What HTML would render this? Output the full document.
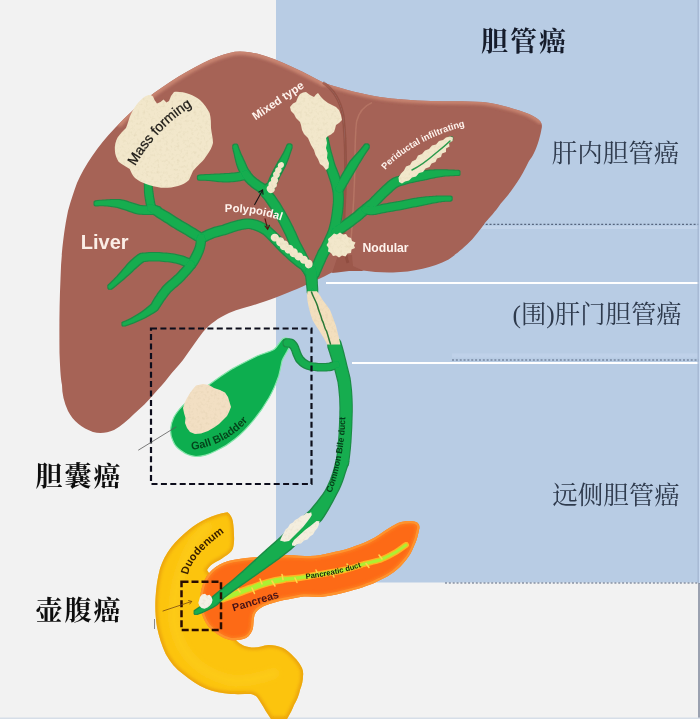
<!DOCTYPE html>
<html lang="zh">
<head>
<meta charset="utf-8">
<title>胆管癌</title>
<style>
html,body{margin:0;padding:0;background:#f2f2f2;}
body{width:700px;height:719px;overflow:hidden;position:relative;font-family:"Liberation Sans","Noto Sans CJK SC",sans-serif;}
svg{position:absolute;left:0;top:0;display:block;}
.zh{font-family:"Liberation Serif","Noto Serif CJK SC",serif;}
.en{font-family:"Liberation Sans",sans-serif;}
</style>
</head>
<body>
<svg width="700" height="719" viewBox="0 0 700 719">
<defs>
<filter id="soft" x="-5%" y="-5%" width="110%" height="110%"><feGaussianBlur stdDeviation="0.6"/></filter>
<filter id="soft2" x="-5%" y="-5%" width="110%" height="110%"><feGaussianBlur stdDeviation="0.45"/></filter>
<filter id="blur3" x="-10%" y="-10%" width="120%" height="120%"><feGaussianBlur stdDeviation="3"/></filter>
<filter id="blur2" x="-10%" y="-10%" width="120%" height="120%"><feGaussianBlur stdDeviation="1.6"/></filter>
<filter id="tex" x="-5%" y="-5%" width="110%" height="110%">
  <feTurbulence type="fractalNoise" baseFrequency="0.35" numOctaves="2" seed="4" result="n"/>
  <feColorMatrix in="n" type="matrix" values="0 0 0 0 0.55  0 0 0 0 0.45  0 0 0 0 0.25  0.55 0 0 0 -0.27" result="c"/>
  <feComposite in="c" in2="SourceGraphic" operator="in" result="ci"/>
  <feMerge><feMergeNode in="SourceGraphic"/><feMergeNode in="ci"/></feMerge>
  <feGaussianBlur stdDeviation="0.45"/>
</filter>
<filter id="duct" x="-5%" y="-5%" width="110%" height="110%">
  <feMorphology in="SourceAlpha" operator="dilate" radius="0.7" result="d"/>
  <feFlood flood-color="#1d8a45"/><feComposite in2="d" operator="in" result="o"/>
  <feMerge><feMergeNode in="o"/><feMergeNode in="SourceGraphic"/></feMerge>
  <feGaussianBlur stdDeviation="0.5"/>
</filter>
<filter id="gsoft" x="0" y="0" width="100%" height="100%" filterUnits="objectBoundingBox"><feGaussianBlur stdDeviation="0.55" edgeMode="duplicate"/></filter>
</defs>
<g filter="url(#gsoft)">
<rect x="0" y="0" width="700" height="719" fill="#f2f2f2"/>
<!-- blue panel -->
<rect id="panel" x="276" y="0" width="424" height="582.5" fill="#b8cce4"/>
<!-- divider lines -->
<g id="lines">
<line x1="326" y1="283" x2="700" y2="283" stroke="#fff" stroke-width="2"/>
<line x1="352" y1="363" x2="700" y2="363" stroke="#fff" stroke-width="2"/>
<line x1="478" y1="227.6" x2="700" y2="227.6" stroke="#c4d5eb" stroke-width="3"/>
<line x1="452" y1="355.5" x2="700" y2="355.5" stroke="#bfd1e9" stroke-width="4"/>
<line x1="478" y1="224.4" x2="700" y2="224.4" stroke="#56657e" stroke-width="1.1" stroke-dasharray="2 1.85"/>
<line x1="452" y1="360" x2="700" y2="360" stroke="#56657e" stroke-width="1.1" stroke-dasharray="2 1.85"/>
<line x1="445" y1="583" x2="700" y2="583" stroke="#56657e" stroke-width="1.1" stroke-dasharray="2 1.85"/>
<line x1="698.2" y1="0" x2="698.2" y2="583" stroke="#a5b7d2" stroke-width="1.3"/>
<line x1="699.5" y1="0" x2="699.5" y2="583" stroke="#c6d8f0" stroke-width="1"/>
<line x1="699" y1="583" x2="699" y2="719" stroke="#7c869a" stroke-width="1.5"/>
<line x1="0" y1="718.3" x2="700" y2="718.3" stroke="#d6dee8" stroke-width="1.4"/>
</g>
<g id="liver" filter="url(#soft)">
<!-- main lobe -->
<path d="M240,51.5 C262,51.5 290,65 323,82.5 C333,89 340,100 343,115 C346,140 346,180 344,215 C344,235 345.5,250 344.5,259 C343,265 339,269 333,272 C322,277.5 311,283 297,289 C285,294 275,298 260,303 C248,307 238,309 229,313 C218,318 210,324 203,332 C197,340 190,350 183,360 C178,366 173,371.5 168.6,377 C164,383 159,388.5 154,394 C148,401 141,408 134,414 C128,420 121,426 114,430 C107,433 100,434 93,432 C82,428 73,421 68,411 C64,402 62,394 62,385 C60.5,378 60,365 59.5,353 C59.3,330 59.3,305 60.5,279 C61,255 64,230 68,211 C71,200 74,191 77,183 C85,165 97,147 115,128 C127,115 140,103 154,93 C175,78 198,64 218,56.5 C226,53.5 233,51.5 240,51.5 Z" fill="#a66357"/>
<!-- right lobe -->
<path d="M323,82.5 C345,90 365,94.5 380,97 C395,99.3 412,100.3 431,101 C445,101.3 465,101 483,102 C493,103 501,105 508.6,107.3 C516,109.5 523,111.5 529,114 C534,116.5 538,118.5 540,121 C542,123.5 542.3,126 541.5,129 C540.5,135 538,145 534,153 C532.5,156 531,158.5 529,161 C520,180 511,192 500.6,203.7 C495,212 490,217 485.7,222 C480,230 474,238 467,244.6 C460,251 455,255 448.6,259.4 C440,264 432,266.5 422.6,268.7 C412,271 403,272.2 393,272.4 C382,272.6 372,272 363,270.6 C356,269.5 350.5,268.5 347.5,265 C344.5,261 342.5,250 342,240 L342,215 C346,180 346,140 343,115 C340,100 333,89 323,82.5 Z" fill="#a56256"/>
<clipPath id="liverclip"><path d="M240,51.5 C262,51.5 290,65 323,82.5 C333,89 340,100 343,115 C346,140 346,180 344,215 C344,235 345.5,250 344.5,259 C343,265 339,269 333,272 C322,277.5 311,283 297,289 C285,294 275,298 260,303 C248,307 238,309 229,313 C218,318 210,324 203,332 C197,340 190,350 183,360 C178,366 173,371.5 168.6,377 C164,383 159,388.5 154,394 C148,401 141,408 134,414 C128,420 121,426 114,430 C107,433 100,434 93,432 C82,428 73,421 68,411 C64,402 62,394 62,385 C60.5,378 60,365 59.5,353 C59.3,330 59.3,305 60.5,279 C61,255 64,230 68,211 C71,200 74,191 77,183 C85,165 97,147 115,128 C127,115 140,103 154,93 C175,78 198,64 218,56.5 C226,53.5 233,51.5 240,51.5 Z"/><path d="M323,82.5 C345,90 365,94.5 380,97 C395,99.3 412,100.3 431,101 C445,101.3 465,101 483,102 C493,103 501,105 508.6,107.3 C516,109.5 523,111.5 529,114 C534,116.5 538,118.5 540,121 C542,123.5 542.3,126 541.5,129 C540.5,135 538,145 534,153 C532.5,156 531,158.5 529,161 C520,180 511,192 500.6,203.7 C495,212 490,217 485.7,222 C480,230 474,238 467,244.6 C460,251 455,255 448.6,259.4 C440,264 432,266.5 422.6,268.7 C412,271 403,272.2 393,272.4 C382,272.6 372,272 363,270.6 C356,269.5 350.5,268.5 347.5,265 C344.5,261 342.5,250 342,240 L342,215 C346,180 346,140 343,115 C340,100 333,89 323,82.5 Z"/></clipPath>
<g clip-path="url(#liverclip)" fill="none" stroke-linecap="round">
<path d="M120,123 C127,115 140,103 154,93 C175,78 198,64 218,56.5 C226,53.5 233,51.5 240,51.5 C262,51.5 290,65 323,82.5" stroke="#cd8974" stroke-width="7" filter="url(#blur2)" opacity="0.9"/>
<path d="M323,82.5 C345,90 365,94.5 380,97 C395,99.3 412,100.3 431,101 C445,101.3 465,101 483,102 C493,103 501,105 508.6,107.3 C516,109.5 523,111.5 529,114 C534,116.5 538,118.5 540,121" stroke="#cd8974" stroke-width="6" filter="url(#blur2)" opacity="0.85"/>
</g>
<!-- filler --><path d="M332,273 L338,255 L352,255 L353,266 L364,271 L349,271 L337,272.5 Z" fill="#9c584c"/>
<!-- fold -->
<path d="M323,82.5 C333,89 340,100 343,115 C346,140 346,180 344,215 C343.5,240 345,255 348,263" fill="none" stroke="#874539" stroke-width="3" opacity="0.55" filter="url(#soft)"/>
<path d="M372,102.6 C364,106 359,111 356.6,121.5 C355,135 355,150 354.9,165 C354.5,190 353,215 351,240" fill="none" stroke="#bd7b6b" stroke-width="1.5" opacity="0.7" filter="url(#soft)"/>
</g>

<g id="duodenum">
<clipPath id="duoclip"><path id="duopath" d="M227.5,512.3 C220,513.5 213,515.5 207,518.6 C200,522 194,525.5 188.6,530 C181,536 176,541.5 171.4,547 C166,554 162.5,561 160,568.6 C157.5,578 156,588 155.5,598.6 C155,608 155.5,618 157,627 C159,637 162,646 165.7,654 C170,662 176,669 183,674 C190,680 198,685 205.7,688.6 C214,692 222,693.5 231,694 C238,694.3 245,694 251,694 C253.5,694.5 255.5,695.5 257,697 C260,701 263,706 265.7,711 L271,719 L287,719 C290,714 292.5,709 294,705 C297,700 299,695 300,690 C302,685 303,680 303,676 C303.5,673 303,670.5 302,668 C300,664 297.5,660 294,657 C291,653.5 287,650 283,648 C278.5,646 273.5,645 268.6,645 C263.5,645.5 259,647.5 254,647.5 C247,647.5 240,645 236,640 C232,632 226,622 222,612 C218,602 214,590 212,580 C211,576 209,573 207,570 C209,566.5 211.5,564.5 214,562.9 C217.5,561 221,559.5 224,557 C228.5,554.5 231.5,552 232.9,548.6 C234,544.5 234.3,540 234,535.7 C234,531 233.5,526 232.9,521.4 C232,517.5 230.5,514.5 227.5,512.3 Z"/></clipPath>
<use href="#duopath" fill="#fcc410" filter="url(#soft)"/>
<g clip-path="url(#duoclip)">
<use href="#duopath" fill="none" stroke="#e9a00c" stroke-width="5" filter="url(#blur2)" opacity="0.85"/>
<path d="M210,524 C185,545 173,585 174,620 C178,652 198,672 228,680 C245,683 262,678 278,672" fill="none" stroke="#ffdc40" stroke-width="9" opacity="0.3" filter="url(#blur3)"/>
</g>
</g>
<g id="pancreas">
<clipPath id="panclip"><path id="panpath" d="M204,581 C207,575 211,570.5 215.7,567 C221,563.5 227,561 233,560 C241,558.5 250,557.5 258.6,557 C268,556 278,555.5 287,555 C295,555.5 303,556 310,556 C318,556 324,554.5 330,553 C337,551.5 344,550 350,548 C357,545.5 364,543 370,540 C376,537 381,533.5 386,530 C390,527.5 394,525 398,523 C402,521.5 406,521 410,521 C414,521 417,521.8 418.5,524 C419.8,526 419.5,528 419,530 C418,535.5 416.5,541 414,546 C412,551 409.5,556 406,560 C402.5,564.5 398.5,568.5 394,572 C389.5,575 385,578 380,580 C375.5,582.5 371,584.5 366,586 C361,588 355.5,589.5 350,591 C340,594 330,596 321,597 C315,597 310,596.5 304,596.5 C297,597.5 290,599 284,600 C277,601.5 270,603.5 264,606 C259,608.5 256,611 254.5,615 C253.5,619.5 253.5,624 253,628 C252,632 249.5,636 246,638 C241,640 235.5,640.5 230,640 C222,638 214,632.5 208,626 C203,619 200.5,611 200,604 C200,596 201,588 204,581 Z"/></clipPath>
<use href="#panpath" fill="#fd6a12" filter="url(#soft)"/>
<g clip-path="url(#panclip)">
<use href="#panpath" fill="none" stroke="#ffa238" stroke-width="4.5" filter="url(#soft2)" opacity="0.9"/>
<use href="#panpath" fill="none" stroke="#fd8a28" stroke-width="8" filter="url(#blur2)" opacity="0.5"/>
</g>
<!-- pancreatic duct -->
<g fill="none" stroke="#ffc428" stroke-linecap="round" filter="url(#soft)" opacity="0.85">
<path d="M218,600 C229,596.5 240,592 252,588 C262,584 272,581 283,579.5" stroke-width="7.8"/>
<path d="M283,579.5 C293,578.5 300,578 308,576.5 C320,574 332,572.5 344,570" stroke-width="6.8"/>
<path d="M344,570 C351,568.5 358,566 364,564 C370,562.5 375,561.5 380,560 C386,557.5 391,555 396,552 C400,549.5 403,547 406,545" stroke-width="6"/>
</g>
<g fill="none" stroke="#aef032" stroke-linecap="round" filter="url(#soft2)">
<path d="M218,600 C229,596.5 240,592 252,588 C262,584 272,581 283,579.5" stroke-width="4.8"/>
<path d="M283,579.5 C293,578.5 300,578 308,576.5 C320,574 332,572.5 344,570" stroke-width="3.8"/>
<path d="M344,570 C351,568.5 358,566 364,564 C370,562.5 375,561.5 380,560 C386,557.5 391,555 396,552 C400,549.5 403,547 406,545" stroke-width="3"/>
<path d="M240,592 l-3,-4.5 M252,588 l2.5,5.5 M262,584 l-2,-5 M272,581 l3,5 M283,579.5 l-1,-5 M295,578 l2,4.5 M318,574.5 l-2,-4.5 M332,572.5 l2,4.5 M350,568.5 l-3,-4.5 M366,563.5 l3,4 M382,559 l-3,-4" stroke-width="1.5" stroke="#ffd84a"/>
</g>
</g>
<line x1="154.5" y1="619" x2="154.5" y2="629" stroke="#8a8a8a" stroke-width="1"/>
<g id="gb" filter="url(#soft2)">
<path d="M283,338.5 C286.5,337 290.5,338.5 291,342.5 C291,346 288.5,348.5 287,351.6 C285,355 283,358 282,361 C281,366 280,371 278.7,375.9 C276,383.5 273,391 269,397.7 C264.5,405.5 259.5,413 254,419.6 C248,427 242,433.5 235,439 C229,444 222.5,448 215.6,451 C209,454.5 202.5,456.5 196,456.5 C190.5,456 185.5,454 181.6,451 C177.5,448.5 174.5,445 173,441 C171,437 170.3,433 170.6,429 C171,425 172,421 174,417 C177,411.5 181,407 186,402.6 C193,396.5 200,391 208,385.6 C216,379.5 224,374 232.6,368.6 C241,364 249,360 257,356 C263,353.5 269,352 274,349.5 C277.5,347 279.5,341.5 283,338.5 Z" fill="#0fae50" stroke="#86e6ab" stroke-width="1.2"/>
</g>
<g id="ducts" filter="url(#duct)" fill="#12ad50" stroke="none">
<path d="M96.7,205.4 L98.6,205.2 L100.4,205.2 L102.3,205.2 L104.1,205.3 L106,205.4 L107.8,205.6 L109.7,205.8 L111.5,206 L113.2,206.3 L115,206.5 L116.7,206.8 L118.1,207 L119.6,207.4 L121.2,207.9 L122.8,208.5 L124.5,209 L126.1,209.6 L127.7,210.1 L129.3,210.7 L131,211.3 L132.7,211.8 L134.5,212.4 L136.3,212.9 L138.3,213.4 L140.4,213.7 L142.2,213.8 L143.9,213.9 L145.6,213.9 L147.2,213.9 L148.7,213.9 L150.2,213.9 L151.6,214 L152.9,214 L154.2,214 L155.4,214.1 L156.6,214.3 A3.8,3.8 0 0 0 157.4,206.7 L157.4,206.7 L156.1,206.6 L154.6,206.5 L153.2,206.4 L151.7,206.4 L150.3,206.3 L148.8,206.3 L147.3,206.3 L145.7,206.3 L144.2,206.3 L142.6,206.2 L141,206.1 L139.7,206 L138.3,205.6 L136.7,205.1 L135.1,204.6 L133.5,204.1 L131.8,203.5 L130.2,202.9 L128.5,202.4 L126.8,201.8 L125,201.3 L123.2,200.8 L121.3,200.4 L119.1,200 L117.2,200 L115.4,200 L113.6,200 L111.7,200.1 L109.9,200.2 L107.9,200.3 L106,200.4 L104.1,200.5 L102.1,200.7 L100.2,200.8 L98.2,201 L96.3,201.2 A2.1,2.1 0 0 0 96.7,205.4 Z"/>
<path d="M144.8,183.2 L144.8,185.4 L144.9,187.7 L144.9,189.9 L145,192.1 L145.2,194.2 L145.5,196.4 L145.8,198.5 L146.2,200.6 L146.5,202.7 L147,204.8 L147.4,206.8 L147.9,208.9 A3.7,3.7 0 0 0 155.1,207.1 L155.1,207.1 L154.6,205.2 L154.2,203.2 L153.8,201.3 L153.5,199.3 L153.1,197.4 L152.9,195.4 L152.6,193.4 L152.3,191.3 L152,189.3 L151.7,187.2 L151.4,185 L151.2,182.8 A3.2,3.2 0 0 0 144.8,183.2 Z"/>
<path d="M149.1,211.3 L151.3,212.6 L153.5,213.8 L155.6,215.1 L157.6,216.4 L159.6,217.7 L161.6,219 L163.5,220.2 L165.4,221.4 L167.3,222.6 L169.1,223.8 L170.9,225 L172.8,226.2 L175.1,227.6 L177.4,228.9 L179.6,230.2 L181.8,231.5 L184,232.8 L186.2,234.1 L188.4,235.4 L190.5,236.7 L192.6,238 L194.6,239.3 L196.7,240.6 L198.6,242 A4.2,4.2 0 0 0 203.4,235 L203.4,235 L201.3,233.6 L199.2,232.3 L197.1,230.9 L194.9,229.6 L192.7,228.2 L190.5,226.9 L188.3,225.6 L186.1,224.3 L183.9,223 L181.6,221.7 L179.4,220.3 L177.2,219 L175.5,217.9 L173.7,216.7 L171.8,215.5 L169.9,214.3 L167.9,213.1 L165.9,211.9 L163.8,210.7 L161.7,209.5 L159.5,208.4 L157.3,207.1 L155.1,205.9 L152.9,204.7 A3.8,3.8 0 0 0 149.1,211.3 Z"/>
<path d="M203,242.2 L205,241.1 L206.8,240.2 L208.6,239.3 L210.4,238.5 L212.2,237.7 L213.9,237.1 L215.7,236.5 L217.5,235.9 L219.3,235.4 L221.1,234.9 L222.9,234.5 L225.2,234 L227.4,233.2 L229.3,232.5 L231.1,231.9 L232.8,231.3 L234.4,230.8 L236.1,230.3 L237.7,229.8 L239.2,229.4 L240.8,229 L242.4,228.7 L244,228.4 L245.5,228.2 L247,228 L248.4,228 L249.8,228.1 L251.2,228.3 L252.7,228.7 L254.2,229.1 L255.8,229.7 L257.3,230.3 L259,231 L260.6,231.8 L262.2,232.7 L263.6,233.4 L264.9,234.6 L266.5,236.1 L268,237.5 L269.5,239 L270.9,240.4 L272.3,241.9 L273.8,243.4 L275.2,244.9 L276.6,246.4 L278,247.9 L279.5,249.4 L281,251 L282.8,252.7 L284.6,254.5 L286.4,256.1 L288.2,257.8 L290,259.4 L291.8,260.9 L293.6,262.5 L295.4,263.9 L297.2,265.4 L299,266.8 L300.8,268.1 L302.1,269 L302.6,269.9 L303.6,271.2 L304.6,272.5 L305.6,273.9 L306.6,275.2 L307.6,276.5 A4.2,4.2 0 0 0 314.4,271.5 L314.4,271.5 L313.4,270.1 L312.4,268.8 L311.4,267.5 L310.4,266.1 L309.4,264.8 L307.9,263 L305.7,261.3 L304,260.1 L302.3,258.8 L300.6,257.4 L298.9,256 L297.2,254.6 L295.5,253.1 L293.8,251.6 L292.1,250 L290.4,248.4 L288.7,246.7 L287,245 L285.5,243.6 L284.1,242.1 L282.7,240.6 L281.3,239.1 L279.9,237.6 L278.4,236.1 L276.9,234.6 L275.4,233 L273.8,231.5 L272.2,229.9 L270.5,228.4 L268.4,226.6 L266.3,225.3 L264.4,224.4 L262.5,223.4 L260.7,222.6 L258.7,221.8 L256.8,221.1 L254.8,220.5 L252.8,220.1 L250.7,219.8 L248.6,219.6 L246.5,219.6 L244.5,219.8 L242.6,220.1 L240.8,220.5 L239,220.8 L237.2,221.3 L235.4,221.7 L233.7,222.2 L231.9,222.8 L230.1,223.3 L228.3,224 L226.4,224.6 L224.5,225.3 L222.8,226 L221.1,226.3 L219.1,226.8 L217.1,227.3 L215,227.8 L213,228.5 L211.1,229.2 L209.1,229.9 L207.1,230.8 L205.1,231.7 L203,232.7 L201,233.7 L199,234.8 A4.2,4.2 0 0 0 203,242.2 Z"/>
<path d="M196.9,238.5 L196.9,239.3 L196.9,240.1 L196.8,240.9 L196.8,241.7 L196.7,242.6 L196.6,243.4 L196.4,244.3 L196.3,245.1 L196.1,246 L195.8,246.9 L195.6,247.7 L195.3,248.6 L194.8,249.7 L194.3,250.9 L193.8,252.1 L193.2,253.2 L192.6,254.4 L192,255.5 L191.4,256.7 L190.8,257.8 L190.1,258.9 L189.4,260 L188.6,261 L187.8,262.1 A4,4 0 0 0 194.2,266.9 L194.2,266.9 L195.1,265.7 L196,264.5 L196.8,263.2 L197.6,261.9 L198.4,260.6 L199.1,259.3 L199.8,258 L200.4,256.7 L201,255.4 L201.6,254.1 L202.2,252.8 L202.7,251.4 L203.1,250.3 L203.5,249.1 L203.8,248 L204.1,246.9 L204.3,245.8 L204.6,244.7 L204.7,243.6 L204.9,242.6 L205,241.5 L205,240.5 L205.1,239.5 L205.1,238.5 A4.1,4.1 0 0 0 196.9,238.5 Z"/>
<path d="M111.3,288.6 L112.6,287.6 L113.8,286.6 L115,285.6 L116.2,284.6 L117.4,283.6 L118.6,282.6 L119.8,281.6 L121,280.5 L122.3,279.5 L123.5,278.4 L124.8,277.3 L126.1,276.1 L127.7,274.7 L129.3,273.3 L130.8,271.9 L132.3,270.5 L133.7,269.1 L135.2,267.8 L136.6,266.5 L138,265.2 L139.4,264 L140.9,262.8 L142.4,261.7 L143.3,261 L144.4,261 L146.3,260.8 L148.2,260.6 L150.2,260.5 L152.1,260.5 L154.1,260.4 L156.1,260.5 L158.2,260.5 L160.2,260.6 L162.3,260.8 L164.4,261 L166.7,261.2 L168.7,261.3 L170.5,261.5 L172.4,261.8 L174.3,262.2 L176.1,262.6 L178,263.1 L179.9,263.6 L181.7,264.3 L183.6,265 L185.4,265.8 L187.3,266.7 L189.3,267.8 A3.7,3.7 0 0 0 192.7,261.2 L192.7,261.2 L190.7,260.1 L188.6,259.1 L186.4,258.2 L184.3,257.3 L182.1,256.6 L180,255.9 L177.9,255.4 L175.7,254.9 L173.6,254.5 L171.5,254.2 L169.3,254 L167.3,253.8 L165.1,253.6 L162.9,253.4 L160.6,253.2 L158.4,253.1 L156.3,253.1 L154.1,253.1 L152,253.1 L149.9,253.1 L147.8,253.2 L145.7,253.4 L143.6,253.6 L140.7,254 L138.2,255.6 L136.4,256.9 L134.7,258.3 L133.1,259.7 L131.6,261.1 L130.1,262.6 L128.6,264.1 L127.3,265.6 L125.9,267.2 L124.6,268.7 L123.2,270.3 L121.9,271.9 L120.7,273.2 L119.6,274.5 L118.5,275.7 L117.5,276.9 L116.4,278 L115.4,279.1 L114.3,280.2 L113.2,281.3 L112.2,282.3 L111,283.4 L109.9,284.4 L108.7,285.4 A2.1,2.1 0 0 0 111.3,288.6 Z"/>
<path d="M124.6,325.6 L127.4,324.6 L130.2,323.5 L133,322.4 L135.8,321.2 L138.6,320 L141.4,318.7 L144.1,317.4 L146.8,316 L149.4,314.6 L152,313 L154.5,311.4 L157.2,309.4 L158.6,307.3 L159.5,305.9 L160.4,304.5 L161.4,303 L162.4,301.6 L163.3,300.1 L164.3,298.7 L165.4,297.2 L166.5,295.8 L167.6,294.3 L168.7,292.9 L169.8,291.6 L170.9,290.5 L172.1,289.4 L173.4,288.3 L174.7,287.1 L176.1,285.9 L177.5,284.7 L178.9,283.5 L180.3,282.2 L181.7,280.9 L183.2,279.5 L184.5,278 L185.8,276.6 L186.5,275.9 L187.2,275.1 L188,274.3 L188.7,273.5 L189.4,272.7 L190.1,271.9 L190.8,271.1 L191.5,270.2 L192.1,269.4 L192.8,268.5 L193.4,267.6 L194.1,266.7 A3.8,3.8 0 0 0 187.9,262.3 L187.9,262.3 L187.3,263.1 L186.7,263.9 L186.1,264.7 L185.5,265.5 L184.9,266.2 L184.3,267 L183.7,267.7 L183,268.5 L182.4,269.2 L181.7,269.9 L181,270.6 L180.2,271.4 L178.9,272.9 L177.7,274.2 L176.5,275.4 L175.2,276.6 L173.9,277.8 L172.5,279 L171.2,280.2 L169.8,281.3 L168.4,282.5 L167,283.7 L165.7,285 L164.2,286.4 L162.8,288.1 L161.6,289.7 L160.4,291.2 L159.2,292.8 L158.1,294.3 L157.1,295.9 L156,297.4 L155,299 L154.1,300.5 L153.2,302.1 L152.3,303.7 L152,304.6 L150.3,306 L148.2,307.8 L146.1,309.5 L143.8,311.2 L141.4,312.9 L139,314.5 L136.5,316 L134,317.5 L131.4,318.9 L128.8,320.2 L126.1,321.4 L123.4,322.4 A1.7,1.7 0 0 0 124.6,325.6 Z"/>
<path d="M200.1,179.8 L202.1,179.7 L204,179.8 L206,179.8 L208,180 L209.9,180.1 L211.9,180.3 L213.9,180.6 L215.9,180.8 L217.9,181 L219.9,181.2 L222,181.3 L224,181.4 L226.1,181.5 L228.1,181.4 L230.1,181.3 L232,181.2 L234,181 L235.9,180.7 L237.7,180.5 L239.6,180.2 L241.4,179.8 L243.3,179.4 L245.1,179 L246.9,178.6 A3.7,3.7 0 0 0 245.1,171.4 L245.1,171.4 L243.4,171.8 L241.7,172.2 L240,172.6 L238.3,172.9 L236.6,173.2 L234.9,173.4 L233.2,173.6 L231.4,173.8 L229.6,173.9 L227.8,174 L225.9,174.1 L224,174.2 L222,174.3 L220.1,174.4 L218.1,174.5 L216.1,174.6 L214.1,174.7 L212.1,174.8 L210.1,174.9 L208,175 L206,175.1 L204,175.2 L201.9,175.3 L199.9,175.4 A2.2,2.2 0 0 0 200.1,179.8 Z"/>
<path d="M233.1,147.1 L233.5,148.7 L233.9,150.4 L234.3,152 L234.7,153.6 L235,155.1 L235.3,156.7 L235.7,158.2 L236.1,159.7 L236.4,161.2 L236.8,162.6 L237.2,164 L237.6,165.3 L238,166.3 L238.3,167.3 L238.7,168.3 L239.2,169.3 L239.6,170.3 L240.1,171.3 L240.6,172.2 L241.1,173.2 L241.7,174.1 L242.3,175.1 L242.9,176 L243.6,176.8 A3.7,3.7 0 0 0 249.4,172.2 L249.4,172.2 L248.8,171.5 L248.4,170.8 L247.9,170.2 L247.5,169.5 L247.1,168.7 L246.7,168 L246.3,167.2 L245.9,166.3 L245.6,165.5 L245.2,164.6 L244.8,163.7 L244.4,162.7 L243.8,161.5 L243.2,160.2 L242.6,159 L242,157.6 L241.3,156.3 L240.7,154.9 L240.1,153.5 L239.5,152.1 L238.9,150.6 L238.3,149.1 L237.8,147.5 L237.3,145.9 A2.2,2.2 0 0 0 233.1,147.1 Z"/>
<path d="M242.5,176.3 L243.7,177.8 L244.9,179.3 L246.2,180.8 L247.5,182.1 L248.8,183.4 L250.2,184.6 L251.5,185.8 L253,186.9 L254.4,188 L255.9,189 L257.4,190 L258.3,190.6 L259.7,192.1 L261.3,194 L262.8,195.9 L264.4,197.8 L265.9,199.8 L267.3,201.7 L268.7,203.7 L270.1,205.7 L271.4,207.8 L272.8,209.8 L274,211.9 L275.3,214.2 L276.8,216.7 L278.2,219.1 L279.6,221.6 L280.9,224.1 L282.2,226.6 L283.5,229.1 L284.7,231.6 L286,234.1 L287.2,236.7 L288.3,239.3 L289.5,242 L290.7,244.9 L292.1,247.5 L293.5,250 L294.8,252.5 L296.1,255 L297.3,257.5 L298.6,260 L299.9,262.6 L301.1,265.2 L302.4,267.8 L303.6,270.4 L304.8,273.1 L306.1,275.8 A4.3,4.3 0 0 0 313.9,272.2 L313.9,272.2 L312.7,269.5 L311.4,266.8 L310.1,264.1 L308.9,261.4 L307.6,258.8 L306.3,256.2 L305,253.6 L303.7,251.1 L302.4,248.5 L301.1,246 L299.7,243.5 L298.5,241.1 L297.4,238.6 L296.2,235.8 L295,233.1 L293.7,230.5 L292.5,227.8 L291.2,225.2 L289.8,222.6 L288.5,220 L287.1,217.4 L285.7,214.9 L284.2,212.3 L282.7,209.8 L281.4,207.6 L280.1,205.3 L278.7,203.1 L277.2,200.9 L275.7,198.8 L274.2,196.6 L272.6,194.6 L271,192.5 L269.3,190.5 L267.6,188.6 L265.8,186.6 L263.7,184.4 L261.6,183.2 L260.3,182.4 L258.9,181.5 L257.7,180.6 L256.4,179.7 L255.2,178.7 L254,177.7 L252.9,176.7 L251.8,175.5 L250.7,174.3 L249.6,173.1 L248.5,171.7 A3.8,3.8 0 0 0 242.5,176.3 Z"/>
<path d="M287.4,145.7 L286.9,147.1 L286.3,148.5 L285.7,149.8 L285.1,151.2 L284.4,152.6 L283.7,153.9 L282.9,155.3 L282.2,156.6 L281.4,157.9 L280.6,159.2 L279.8,160.5 L279,161.8 L277.9,163.7 L276.9,165.5 L275.9,167.4 L274.9,169.2 L274,171.1 L273,173 L272.1,174.9 L271.1,176.8 L270.2,178.7 L269.4,180.7 L268.5,182.7 L268.2,183.9 L267.9,183.8 L266.6,184.6 L265.3,185.4 L264,186.2 L262.7,187 A3.5,3.5 0 0 0 266.3,193 L266.3,193 L267.6,192.2 L268.9,191.4 L270.2,190.6 L271.5,189.8 L273.8,188.1 L275,185.3 L275.8,183.5 L276.6,181.6 L277.5,179.8 L278.3,177.9 L279.2,176.1 L280.2,174.3 L281.1,172.5 L282.1,170.7 L283.1,168.8 L284.1,166.9 L285,165 L285.7,163.6 L286.3,162.1 L286.9,160.6 L287.5,159.1 L288.1,157.6 L288.6,156.1 L289.1,154.6 L289.6,153 L290.1,151.6 L290.6,150.1 L291.1,148.7 L291.6,147.3 A2.2,2.2 0 0 0 287.4,145.7 Z"/>
<path d="M320.4,139.6 L320.8,141.9 L321.2,144.3 L321.7,146.7 L322.1,149.1 L322.7,151.6 L323.2,154 L323.8,156.5 L324.4,159 L325,161.6 L325.7,164.1 L326.4,166.6 L327.1,169.3 L327.9,171.4 L328.6,173.4 L329.2,175.4 L329.9,177.4 L330.5,179.3 L331.1,181.3 L331.7,183.2 L332.2,185 L332.6,186.9 L333,188.7 L333.3,190.5 L333.6,192.3 L333.7,194.1 L333.8,196 L333.9,197.9 L333.9,199.8 L333.9,201.7 L333.8,203.6 L333.6,205.4 L333.4,207.2 L333.2,209.1 L333,210.8 L332.8,212.6 L332.5,214.4 L332.3,216 L332.1,217.6 L331.8,219.2 L331.5,220.6 L331.3,222 L331,223.4 L330.7,224.8 L330.3,226.1 L330,227.4 L329.6,228.8 L329.2,230.2 L328.8,231.4 L328.1,233 L327.4,234.7 L326.6,236.4 L325.9,238.1 L325.1,239.8 L324.3,241.5 L323.5,243.1 L322.7,244.8 L321.9,246.4 L321,247.9 L320.1,249.5 L319,251.3 L318.1,253.2 L317.4,254.9 L316.6,256.6 L315.9,258.3 L315.1,260 L314.4,261.8 L313.6,263.5 L312.9,265.2 L312.1,267 L311.4,268.7 L310.6,270.5 L309.9,272.2 A4.5,4.5 0 0 0 318.1,275.8 L318.1,275.8 L318.9,274 L319.6,272.3 L320.4,270.5 L321.1,268.8 L321.9,267.1 L322.6,265.3 L323.4,263.6 L324.1,261.9 L324.9,260.2 L325.6,258.6 L326.4,256.9 L327,255.5 L327.9,254.1 L328.8,252.4 L329.8,250.6 L330.7,248.9 L331.6,247.1 L332.4,245.4 L333.3,243.6 L334.1,241.8 L334.9,240.1 L335.6,238.3 L336.4,236.5 L337.2,234.6 L337.8,232.9 L338.2,231.3 L338.7,229.8 L339.1,228.3 L339.4,226.8 L339.8,225.3 L340.1,223.8 L340.4,222.3 L340.7,220.7 L340.9,219.1 L341.2,217.4 L341.5,215.6 L341.7,213.8 L342,212 L342.2,210.1 L342.4,208.1 L342.6,206.2 L342.7,204.1 L342.8,202 L342.9,199.9 L342.9,197.8 L342.8,195.6 L342.7,193.4 L342.4,191.1 L342.1,189 L341.7,186.9 L341.2,184.8 L340.7,182.8 L340,180.7 L339.4,178.7 L338.7,176.6 L338,174.6 L337.2,172.6 L336.4,170.6 L335.6,168.6 L334.9,166.7 L334.1,164.4 L333.4,161.9 L332.7,159.5 L332,157 L331.3,154.6 L330.6,152.2 L330,149.8 L329.5,147.5 L329,145.2 L328.5,142.9 L328,140.6 L327.6,138.4 A3.7,3.7 0 0 0 320.4,139.6 Z"/>
<path d="M364.8,145.2 L363.7,146.8 L362.5,148.3 L361.3,149.7 L360.2,151.1 L359,152.4 L357.8,153.7 L356.7,154.9 L355.5,156.2 L354.4,157.4 L353.3,158.7 L352.2,159.9 L350.9,161.4 L349.5,163.6 L348.2,165.7 L347,167.8 L345.7,169.9 L344.5,172 L343.3,174.1 L342,176.2 L340.8,178.4 L339.5,180.5 L338.3,182.7 L337.1,184.9 L335.9,187.2 A3.8,3.8 0 0 0 342.5,190.8 L342.5,190.8 L343.7,188.6 L344.9,186.4 L346.1,184.3 L347.4,182.2 L348.6,180.1 L349.8,178 L351,175.9 L352.3,173.8 L353.5,171.7 L354.8,169.6 L356,167.4 L357.1,165.4 L357.8,164.2 L358.7,162.8 L359.6,161.4 L360.5,160 L361.4,158.5 L362.3,157.1 L363.2,155.6 L364.2,154.1 L365.2,152.5 L366.2,151 L367.3,149.4 L368.4,147.8 A2.2,2.2 0 0 0 364.8,145.2 Z"/>
<path d="M457.5,170.7 L455.9,170.7 L454.3,170.7 L452.7,170.6 L451.1,170.6 L449.4,170.5 L447.8,170.4 L446.2,170.3 L444.5,170.2 L442.8,170.2 L441.1,170.2 L439.3,170.2 L437.6,170.3 L435.8,170.3 L434,170.4 L432.3,170.5 L430.5,170.6 L428.7,170.8 L426.9,171 L425,171.2 L423.3,171.5 L421.6,171.7 L419.7,172 L417.8,172.3 L415.9,172.6 L414,173 L412,173.4 L410,173.9 L408,174.4 L405.9,174.9 L403.9,175.4 L401.8,176 L399.9,176.7 L399,176.9 L397.9,177.2 L396.8,177.5 L395.8,177.9 L394.8,178.3 L393.8,178.8 L392.8,179.3 L391.8,179.9 L390.9,180.5 L390,181.2 L389.1,181.9 L388.3,182.6 L386.8,184 L385.2,185.4 L383.7,186.8 L382.2,188.3 L380.6,189.7 L379.1,191.3 L377.5,192.8 L376,194.3 L374.4,195.9 L372.8,197.6 L371.2,199.2 L369.8,200.7 L368.7,201.5 L367.3,202.6 L366,203.7 L364.6,204.7 L363.3,205.8 L362,206.9 L360.7,207.9 L359.4,209 L358.1,210.1 L356.8,211.3 L355.5,212.4 L354.4,213.4 L353,214.4 L351.5,215.6 L350,216.7 L348.4,217.9 L346.8,219.1 L345.2,220.3 L343.4,221.5 L341.7,222.8 L339.8,224 L337.8,225.3 L335.7,226.6 L333.4,228 A4.1,4.1 0 0 0 337.6,235 L337.6,235 L339.9,233.6 L342.2,232.3 L344.3,230.9 L346.3,229.6 L348.2,228.2 L350,227 L351.7,225.7 L353.3,224.5 L354.9,223.3 L356.4,222.1 L357.9,221 L359.6,219.8 L361,218.5 L362.2,217.4 L363.4,216.3 L364.7,215.3 L365.9,214.2 L367.2,213.2 L368.4,212.2 L369.7,211.1 L371,210.1 L372.4,209.1 L373.7,208 L375.4,206.7 L377.1,204.9 L378.7,203.3 L380.3,201.7 L381.8,200.1 L383.3,198.6 L384.8,197.1 L386.3,195.6 L387.8,194.2 L389.3,192.8 L390.8,191.4 L392.2,190.1 L393.7,188.8 L394.4,188.2 L395,187.7 L395.6,187.3 L396.2,186.8 L396.8,186.5 L397.5,186.1 L398.1,185.8 L398.8,185.5 L399.5,185.3 L400.3,185 L401.1,184.8 L402.1,184.5 L404.2,183.9 L406.1,183.3 L408,182.8 L409.9,182.3 L411.9,181.9 L413.7,181.4 L415.6,181.1 L417.5,180.7 L419.3,180.3 L421.1,180 L422.9,179.7 L424.7,179.3 L426.5,178.9 L428.1,178.5 L429.8,178.1 L431.5,177.8 L433.2,177.4 L434.9,177.1 L436.5,176.8 L438.2,176.5 L439.8,176.2 L441.5,176 L443.1,175.8 L444.7,175.6 L446.2,175.5 L447.8,175.4 L449.4,175.3 L451.1,175.2 L452.7,175.2 L454.3,175.1 L455.9,175.1 L457.5,175.1 A2.2,2.2 0 0 0 457.5,170.7 Z"/>
<path d="M449.7,196.5 L448,196.5 L446.3,196.5 L444.5,196.4 L442.8,196.5 L441.1,196.5 L439.4,196.6 L437.6,196.6 L435.9,196.7 L434.1,196.8 L432.4,196.9 L430.6,197 L428.8,197.2 L427,197.3 L425.2,197.5 L423.4,197.7 L421.1,198 L418.8,198.3 L416.4,198.7 L414.1,199.1 L411.7,199.5 L409.3,200 L406.9,200.5 L404.5,200.9 L402.1,201.4 L399.7,201.9 L397.4,202.3 L395,202.8 L393.4,203 L391.7,203.3 L390,203.6 L388.3,203.9 L386.6,204.2 L384.8,204.5 L383.1,204.8 L381.3,205.2 L379.5,205.5 L377.7,205.9 L376,206.3 L374.2,206.7 L373.7,206.8 L373,206.9 L372.4,206.9 L371.8,207 L371.2,207 L370.6,207 L370,206.9 L369.4,206.8 L368.8,206.7 L368.1,206.6 L367.5,206.4 L366.7,206.1 A3.6,3.6 0 0 0 364.3,212.9 L364.3,212.9 L365.3,213.2 L366.3,213.5 L367.3,213.8 L368.3,213.9 L369.3,214.1 L370.2,214.2 L371.2,214.2 L372.1,214.2 L373,214.1 L373.9,214 L374.8,213.9 L375.8,213.7 L377.5,213.3 L379.3,212.9 L381,212.6 L382.7,212.2 L384.4,211.9 L386.1,211.6 L387.8,211.3 L389.5,211 L391.2,210.7 L392.9,210.4 L394.6,210.1 L396.4,209.8 L398.7,209.4 L401.1,208.9 L403.5,208.5 L405.9,208 L408.2,207.5 L410.6,207.1 L413,206.6 L415.4,206.2 L417.7,205.7 L420,205.3 L422.3,204.8 L424.6,204.3 L426.3,203.9 L428,203.5 L429.7,203.2 L431.4,202.8 L433.1,202.5 L434.8,202.2 L436.4,201.9 L438.1,201.6 L439.8,201.4 L441.5,201.1 L443.1,200.9 L444.7,200.8 L446.3,200.7 L448,200.7 L449.7,200.7 A2.1,2.1 0 0 0 449.7,196.5 Z"/>
<path d="M450.3,137.5 L448.5,138.6 L446.7,139.8 L444.9,141 L443.1,142.3 L441.3,143.6 L439.5,144.9 L437.6,146.2 L435.8,147.6 L434,149 L432.2,150.4 L430.3,151.9 L428.6,153.3 L426.1,155.2 L423.6,157.2 L421.1,159.2 L418.6,161.3 L416.2,163.3 L413.7,165.3 L411.3,167.3 L408.9,169.3 L406.5,171.3 L404.1,173.3 L401.8,175.3 L399.5,177.3 A2.2,2.2 0 0 0 402.5,180.7 L402.5,180.7 L404.8,178.7 L407,176.7 L409.4,174.7 L411.7,172.7 L414.1,170.7 L416.6,168.7 L419,166.7 L421.5,164.7 L423.9,162.8 L426.4,160.8 L428.9,158.8 L431.4,156.7 L433.2,155.1 L434.8,153.6 L436.5,152 L438.2,150.5 L439.9,149 L441.5,147.5 L443.2,146 L444.9,144.6 L446.6,143.2 L448.3,141.9 L450,140.7 L451.7,139.5 A1.2,1.2 0 0 0 450.3,137.5 Z"/>
<path d="M305.8,271.4 L305.9,272.9 L306,274.5 L306.2,276 L306.3,277.5 L306.5,279.1 L306.7,280.6 L306.8,282.1 L307,283.7 L307.2,285.2 L307.3,286.7 L307.5,288.3 L307.6,289.8 L307.7,291.4 A4.8,4.8 0 0 0 317.3,290.6 L317.3,290.6 L317.2,289.1 L317.1,287.6 L317,286 L316.9,284.5 L316.9,282.9 L316.8,281.4 L316.7,279.9 L316.7,278.3 L316.6,276.8 L316.5,275.2 L316.4,273.7 L316.3,272.1 L316.2,270.6 A5.2,5.2 0 0 0 305.8,271.4 Z"/>
<path d="M311.1,290.5 L312.5,294.4 L314,298.4 L315.7,302.7 L317.3,307.1 L319.1,311.6 L320.9,316.3 L322.8,321.1 L324.7,326 L326.6,331 L328.6,336.1 L330.6,341.3 L332.6,346.5 A1.5,1.5 0 0 0 335.4,345.5 L335.4,345.5 L333.4,340.2 L331.4,335.1 L329.4,330 L327.5,324.9 L325.6,320 L323.7,315.2 L321.9,310.5 L320.1,306 L318.5,301.6 L316.8,297.4 L315.3,293.3 L313.9,289.5 A1.5,1.5 0 0 0 311.1,290.5 Z"/>
<path d="M328.4,346.4 L329.3,349.2 L330.2,352.1 L331.1,354.9 L332,357.8 L332.9,360.7 L333.7,363.6 L334.6,366.5 L335.4,369.5 L336.2,372.4 L337,375.4 L337.7,378.4 L338.4,381.1 L338.8,384 L339.2,387.2 L339.5,390.4 L339.8,393.7 L340.1,397 L340.2,400.2 L340.3,403.5 L340.4,406.8 L340.4,410.1 L340.3,413.3 L340.3,416.5 L340.1,419.8 L340,423.1 L339.9,426.4 L339.7,429.7 L339.6,433 L339.4,436.4 L339.1,439.8 L338.8,443.3 L338.5,446.8 L338.1,450.3 L337.8,453.9 L337.3,457.6 L336.8,461.3 A5.7,5.7 0 0 0 348.2,462.7 L348.2,462.7 L348.6,459 L349.1,455.2 L349.5,451.5 L349.9,447.9 L350.2,444.3 L350.5,440.7 L350.7,437.2 L350.9,433.7 L351.1,430.2 L351.3,426.8 L351.4,423.5 L351.5,420.2 L351.6,416.9 L351.7,413.6 L351.8,410.1 L351.8,406.7 L351.7,403.2 L351.6,399.8 L351.4,396.3 L351.2,392.8 L350.9,389.4 L350.5,385.9 L350.1,382.5 L349.6,378.9 L348.8,375.6 L348,372.6 L347.3,369.6 L346.5,366.6 L345.8,363.6 L345.1,360.5 L344.3,357.5 L343.6,354.5 L342.8,351.5 L342,348.5 L341.1,345.6 L340.2,342.6 A6.2,6.2 0 0 0 328.4,346.4 Z"/>
<path d="M287.1,346.5 L287.9,346.4 L288.3,346.4 L288.7,346.4 L289,346.4 L289.4,346.5 L289.7,346.7 L290.1,346.9 L290.5,347.3 L290.9,347.7 L291.3,348.3 L291.7,348.9 L292,349.7 L292.4,350.6 L292.7,351.5 L293,352.5 L293.4,353.4 L293.7,354.4 L294.1,355.3 L294.5,356.2 L294.9,357.1 L295.3,358.1 L295.8,359 L296.3,359.9 L296.9,360.9 L297.8,362 L298.8,363.1 L299.8,364 L300.8,364.9 L301.9,365.8 L303,366.5 L304.2,367.2 L305.3,367.8 L306.5,368.3 L307.8,368.7 L309,369.1 L310.4,369.4 L312.1,369.7 L313.7,369.9 L315.3,370.1 L317,370.2 L318.7,370.4 L320.4,370.4 L322.1,370.5 L323.8,370.4 L325.5,370.4 L327.2,370.3 L328.8,370.2 L330.7,369.9 L332.7,369.3 L334.5,368.7 L336.2,368.1 L338,367.5 A3.2,3.2 0 0 0 336,361.5 L336,361.5 L334.3,362 L332.5,362.6 L330.8,363.2 L329.3,363.7 L328.2,363.8 L326.7,363.9 L325.2,364 L323.7,364 L322.1,364.1 L320.6,364 L319,364 L317.5,363.9 L316,363.7 L314.5,363.6 L313,363.4 L311.6,363.2 L310.7,362.9 L309.8,362.7 L308.9,362.3 L308,362 L307.2,361.5 L306.4,361.1 L305.6,360.5 L304.8,360 L304.1,359.3 L303.4,358.6 L302.7,357.9 L302.1,357.1 L301.8,356.6 L301.4,355.9 L301,355.2 L300.7,354.5 L300.4,353.8 L300,353 L299.7,352.1 L299.4,351.2 L299.1,350.3 L298.7,349.4 L298.4,348.4 L298,347.3 L297.5,346.2 L296.9,345 L296.3,343.9 L295.5,342.9 L294.6,341.9 L293.6,341.1 L292.5,340.3 L291.3,339.8 L289.9,339.4 L288.5,339.2 L287.1,339.3 L285.9,339.5 A3.6,3.6 0 0 0 287.1,346.5 Z"/>
<path d="M336.8,460 C336,464 334.8,468.5 333.5,473 C332,478 330,483 327.5,488 C325,493 321.5,497.5 318,502 C315.5,505 313,508 310.6,511 L295,525 L278.6,540 L267,550.3 L255.7,560.6 L244.3,570.9 L232.9,581 L221.4,590.3 L213.4,597 C210,600 207,602.5 204,605 L195,611 C193.8,612.3 195,614.5 196.5,614 C200,612.8 203.5,611.3 207,609.5 C210.5,608 214,606.2 216.9,604 L223.7,597 L232.9,590.3 L244.3,582.3 L255.7,574.3 L267,566.3 L278.6,558 L290,549 L305,535 L321,519.4 C324,515.5 327,510.5 330,505 C333,499.5 336,494 338.5,489 C341,484 343,478 344.5,473 C346,469 347.5,464 348.3,460 Z"/>
</g>
<g id="tumors" fill="#f2e7cb" filter="url(#tex)">
<!-- mass forming -->
<path d="M150,94.5 L153,96.5 L154.5,100 L157,103.5 L160.5,102 L163.5,99.5 L166.5,102.5 L169,101 L171,96 L174,92 C179,91.5 184,92.5 189,94 C193.5,95.5 197,97.5 200,100 C204,104 207.5,108.5 209.6,113 C211,118 211,123 211,128 C211.5,133 213,138 213,143 C212,147 210,151 207.7,154 C205.5,157.5 203,161 200,163.6 C197.5,166 195,168.5 193,171 C191.5,174 190.5,177 189,180 C186,183 182,185 178,185.9 C172.5,187.5 167,188 161,187.7 C156,187 151,186 146,184 C142,182.5 138,180.5 135,178 C132.5,175.5 131,172 129.7,169 C126,166.5 122,164.5 118.6,161.7 C116.5,158.5 115,154.5 114.9,150.6 C114.5,146 115.5,141.5 117.6,137.6 C120,134 123,131 126,128 C127.5,124.5 128.5,120.5 129.7,117 C131.5,112.5 134,108 137,104 C139.5,101 142,98.5 144.6,96.7 C146.5,95.5 148,95 150,95 Z"/>
<!-- mixed type -->
<path d="M290,107 L293,103.5 L296,102 L298,97 L300,94 L303,92.5 L306,92 L310,95 L314,97 L316,94.5 L318,93 L321,97 L324,100 L328,103 L332,105 L336,107 L339,110 L341,115 L342,120 L339,123 L336,125 L335,129 L334,132 L331,134.5 L328,136 L326,138 L327,143 L326,148 L327.5,153 L327,158 L329,163 L328.5,168 L326,170 L323,166 L320,164 L318,159 L315.5,155 L314,150 L311,145 L308,138 L304,134 L302,130 L301,125 L300,122 L296,118 L294,114 L291,111 Z"/>
<!-- polypoid 1 -->
<path d="M280.5,162.3 A3.9,3.9 0 0 0 278,166.9 A3.9,3.9 0 0 0 275.2,171.3 A3.9,3.9 0 0 0 273.5,176.3 A3.9,3.9 0 0 0 271.1,180.9 A3.9,3.9 0 0 0 268.6,185.5 A3.9,3.9 0 0 0 267.1,190.5 A4.4,4.4 0 0 0 272.5,192.8 A3.9,3.9 0 0 0 274.6,188.1 A3.9,3.9 0 0 0 276.7,183.3 A4.1,4.1 0 0 0 277.4,178 A3.9,3.9 0 0 0 279.6,173.3 A3.9,3.9 0 0 0 281.2,168.3 A3.9,3.9 0 0 0 283.9,163.8 A2.8,2.8 0 0 0 280.5,162.3 Z"/>
<!-- polypoid 2 -->
<path d="M270.7,238.3 A4.6,4.6 0 0 0 276.2,241.2 A4.8,4.8 0 0 0 279.8,246.4 A4.5,4.5 0 0 0 284.5,250.2 A4.6,4.6 0 0 0 289.6,253.5 A4.5,4.5 0 0 0 294.4,257.3 A4.6,4.6 0 0 0 299.8,260.2 A4.6,4.6 0 0 0 304.8,263.7 A4.7,4.7 0 0 0 308.7,268.5 A4.7,4.7 0 0 0 312.6,263.5 A4.6,4.6 0 0 0 307.9,259.6 A4.5,4.5 0 0 0 303.1,255.9 A4.6,4.6 0 0 0 297.9,252.7 A4.6,4.6 0 0 0 293.6,248.3 A4.5,4.5 0 0 0 288.7,244.8 A4.6,4.6 0 0 0 284.3,240.5 A4.6,4.6 0 0 0 279,237.5 A4.5,4.5 0 0 0 274.2,233.7 A4.4,4.4 0 0 0 270.7,238.3 Z"/>
<!-- nodular -->
<path d="M331,236.5 L334,233.5 L337,234.5 L340,232.5 L343,234.5 L346,234 L348,237 L351,238 L352,241 L355.5,242.5 L354,245.5 L355,248 L351.5,249.5 L351,253 L347.5,253.5 L345.5,256.5 L342,255.5 L339,257.5 L336,255.5 L333,256 L331,253 L328,251.5 L328.5,248 L326.5,245 L328.5,242 L328,239 Z"/>
<!-- periductal -->
<path d="M399,182 L398.5,177.5 L401,173.5 L404,170.5 L406,166.5 L410,165 L412,161.5 L416,159.5 L418,155.5 L422,154 L425,150.5 L429,149 L432,145.5 L436,144.5 L439,141 L443,140 L446,137.5 L450,136.5 L453,137.5 L452.5,141 L449,143 L449.5,146.5 L446,148.5 L446,152 L442,153.5 L441,157 L437,158.5 L435.5,162 L431.5,163.5 L429.5,167 L425.5,168.5 L423,172 L419,173 L416,176.5 L412,177.5 L409,180.5 L405,181.5 L402,183.5 Z"/>
<!-- hilar -->
<path d="M307.5,291.3 L317,291.3 L320,295.5 L322.6,300 L326.5,305 L330,310 L332,315 L333.8,320 L336,326 L337.6,332.6 L339,338 L340.3,344.5 L327,344.5 L326.3,342.6 L322.5,336 L318.8,330 L315.5,325 L312.5,320 L310.5,314 L308.8,307.6 L307.5,301 L307,295 Z" fill="#f3dfbe"/>
<!-- distal -->
<path d="M280,540.5 L282,536 L284,532.5 L285.5,529.5 L288,527.5 L290,524 L293,522.5 L295,520 L298,518.5 L301,516 L304,515 L306.5,513 L309,513.2 L311.2,512.3 L311.8,515 L310,518 L307,522 L303,527 L298,532 L293,537 L289,541 L284.5,541.8 Z M292,543.5 L294,540 L299,535.5 L305,530 L311,525.5 L316.5,521 L319.6,521.3 L319,524.5 L317.5,528 L315,531 L313,534.5 L310,536.5 L307.5,539.5 L304,540.5 L301,543.5 L297.5,544 L295,546 L292,545.5 Z" fill="#f4eede"/>
<!-- ampullary -->
<path d="M200,597 L202,594.5 L205,593.8 L207,595.5 L209.5,594.8 L211.5,597 L212.5,600 L211.8,603 L210,605.5 L207.5,607.5 L204.5,608.8 L201.5,608 L199.5,606 L198.3,603 L199.2,600 Z" fill="#f3f0e6"/>
<!-- GB tumor -->
<path d="M196,385.5 L203,384 L209,385 L214,388 L220,390 L225,392.5 L228,397 L229.5,402 L231,407 L229,412 L227,416 L223,420 L219,424 L214,427.5 L208,431 L201,433.5 L195,434 L190,432 L187,428 L185,423 L185.5,418 L184,413 L183,408 L184.5,403 L187,398 L190,393 L193,389 Z" fill="#f2dfc3"/>
</g>
<!-- green stripes through tumours -->
<g fill="none" stroke="#2c9a4c" stroke-linecap="round" filter="url(#soft2)">
<path d="M311.5,292 C313,297 316,301 317.5,306 C318.5,311 321,315 322,320 C324.5,324 324,328 326.5,331 C328,335 329,340 330.5,344" stroke-width="1.5" stroke="#2a7a38"/>
<path d="M412,170 C420,166 428,160 436,153 C441,149 446,145 450,141" stroke-width="1.5"/>
</g>



<g id="boxes" fill="none" stroke="#0c0f1a" stroke-width="2.2">
<rect x="151" y="328.5" width="160.5" height="155.5" stroke-dasharray="6 3.4"/>
<rect x="181.5" y="581.8" width="39.5" height="48.2" stroke="#2a0e05" stroke-width="2.5" stroke-dasharray="7 3"/>
</g>
<g id="arrows" fill="none" stroke-linecap="round">
<line x1="138.6" y1="450" x2="176" y2="427" stroke="#5a5a5a" stroke-width="0.8"/>
<line x1="163" y1="611" x2="191.5" y2="601.5" stroke="#7a4a10" stroke-width="0.8"/>
<path d="M188.5,600.6 L191.8,601.4 L189.8,604" stroke="#7a4a10" stroke-width="0.8"/>
<line x1="254.7" y1="204.6" x2="262.4" y2="190.4" stroke="#151515" stroke-width="1.1"/>
<path d="M259,192 L262.6,190 L263,194.2" stroke="#151515" stroke-width="1.1"/>
<line x1="265" y1="218.7" x2="267.6" y2="229" stroke="#5a1010" stroke-width="1.1"/>
<path d="M265,226 L267.7,229.3 L269.5,225.3" stroke="#5a1010" stroke-width="1.1"/>
</g>
<g id="labels" class="en" font-weight="700">
<defs>
<path id="pMass" d="M135,166.3 Q156,129 192,106"/>
<path id="pPoly" d="M225,212 C240,211.5 262,213.5 284,221.5"/>
<path id="pPeri" d="M385.5,170 C398,155 428,135 468,125.5"/>
<path id="pGB" d="M191.5,449.5 C213,448.5 237,435 250,418"/>
<path id="pDuo" d="M188,575 Q191.4,555.4 226,531.5"/>
<path id="pCBD" d="M331.5,493 C339.5,470 345,445 345.5,412"/>
<path id="pPD" d="M306,579 C325,576.3 345,573 364,566"/>
</defs>
<text x="80.8" y="248.8" font-size="20" fill="#fbeee6">Liver</text>
<text font-size="14" font-weight="400" fill="#1c1a16" stroke="#1c1a16" stroke-width="0.25"><textPath href="#pMass">Mass forming</textPath></text>
<text transform="translate(255.5,120.5) rotate(-34)" font-size="11.5" fill="#fff4ee">Mixed type</text>
<text font-size="11.3" fill="#fff4ee"><textPath href="#pPoly">Polypoidal</textPath></text>
<text font-size="9.2" fill="#fff4ee"><textPath href="#pPeri">Periductal infiltrating</textPath></text>
<text x="362.5" y="251.7" font-size="12.2" fill="#fff4ee">Nodular</text>
<text font-size="11" fill="#06461c"><textPath href="#pGB">Gall Bladder</textPath></text>
<text font-size="11" fill="#3a2000"><textPath href="#pDuo">Duodenum</textPath></text>
<text font-size="8.8" fill="#06401a"><textPath href="#pCBD">Common Bile duct</textPath></text>
<text transform="translate(233.5,611.5) rotate(-17)" font-size="10.8" fill="#4a1414">Pancreas</text>
<text font-size="7.6" fill="#1e2408"><textPath href="#pPD">Pancreatic duct</textPath></text>
</g>

<!-- TEXT -->
<g id="zhtext" class="zh">
<text x="481" y="50.5" font-size="27" letter-spacing="2" font-weight="700" fill="#141c2c">胆管癌</text>
<text x="551.8" y="161.5" font-size="25.5" fill="#2f3a4d">肝内胆管癌</text>
<text x="512.5" y="323.2" font-size="25.4" fill="#2f3a4d">(围)肝门胆管癌</text>
<text x="552.2" y="503.5" font-size="25.5" fill="#2f3a4d">远侧胆管癌</text>
<text x="35.5" y="486" font-size="27" letter-spacing="2" font-weight="700" fill="#111">胆囊癌</text>
<text x="35.5" y="619.5" font-size="27" letter-spacing="2" font-weight="700" fill="#111">壶腹癌</text>
</g>
</g>
</svg>
</body>
</html>
